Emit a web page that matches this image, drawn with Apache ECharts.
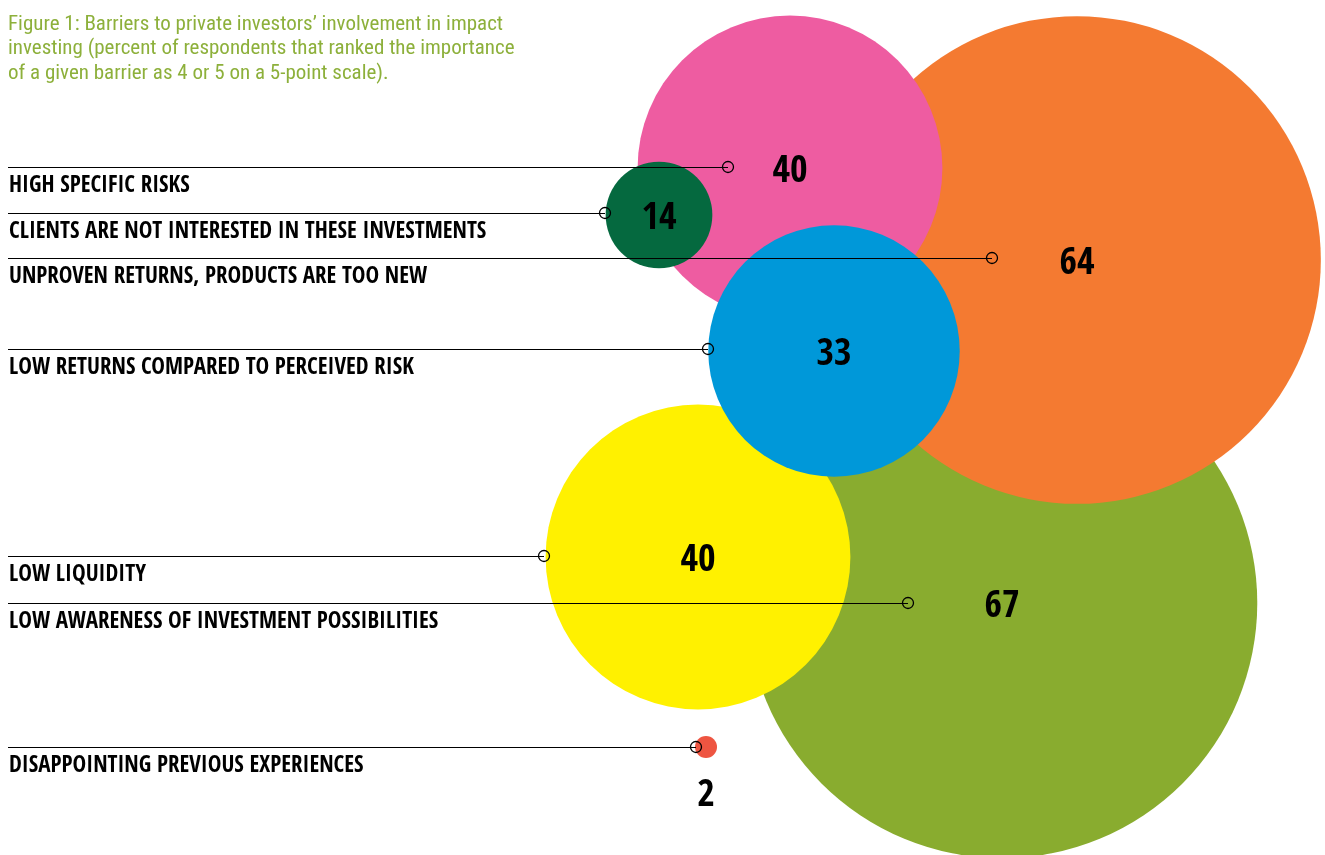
<!DOCTYPE html>
<html>
<head>
<meta charset="utf-8">
<script src="https://cdn.jsdelivr.net/npm/echarts@6/dist/echarts.min.js"></script>
<style>
  html, body { margin: 0; padding: 0; background: #fff; }
  #main { width: 1325px; height: 855px; }
</style>
</head>
<body>
<div id="main"></div>
<script>
// barriers, listed top to bottom as in the legend lines
var barriers = [
    'HIGH SPECIFIC RISKS',
    'CLIENTS ARE NOT INTERESTED IN THESE INVESTMENTS',
    'UNPROVEN RETURNS, PRODUCTS ARE TOO NEW',
    'LOW RETURNS COMPARED TO PERCEIVED RISK',
    'LOW LIQUIDITY',
    'LOW AWARENESS OF INVESTMENT POSSIBILITIES',
    'DISAPPOINTING PREVIOUS EXPERIENCES'
]
// percent of respondents
var percents = [40, 14, 64, 33, 40, 67, 2]

// bubble centres in the layout space (0..1325 x 0..855)
var bubbleX = [790, 659, 1077, 834, 698, 1002, 706]
var bubbleY = [168, 215, 260, 351, 557, 603, 747]

// leader lines: height and where they stop on the bubble
var leaderY = [167, 213, 258, 349, 556, 603, 747]
var leaderEndX = [728, 605, 992, 708, 544, 908, 696]

var colors = ['#EE5CA1', '#05693F', '#F47A31', '#0098D9', '#FFF100', '#89AC2F', '#EE5541']

var titleText = 'Figure 1: Barriers to private investors\u2019 involvement in impact\n' +
    'investing (percent of respondents that ranked the importance\n' +
    'of a given barrier as 4 or 5 on a 5-point scale).'

var PX_PER_PCT = 7.62   // bubble diameter per percent
var MIN_SIZE = 22
var condensed = "'Open Sans Condensed', 'Roboto Condensed', sans-serif"

var sizeOf = (v) => Math.max(v * PX_PER_PCT, MIN_SIZE)

// big bubbles first so the small ones sit on top
var order = percents.map((v, i) => i).sort((a, b) => percents[b] - percents[a])

var bubbleData = order.map(i => {
    var small = sizeOf(percents[i]) < 40
    return {
        name: barriers[i],
        value: [bubbleX[i], bubbleY[i], percents[i]],
        itemStyle: { color: colors[i] },
        label: small ? { position: 'bottom', distance: 15 } : { position: 'inside' }
    }
})

var leaderData = barriers.map((b, i) => ({
    coords: [[8, leaderY[i]], [leaderEndX[i], leaderY[i]]]
}))

var anchorData = barriers.map((b, i) => [leaderEndX[i], leaderY[i]])
var labelData = barriers.map((b, i) => ({ name: b, value: [8, leaderY[i]] }))

var chart = echarts.init(document.getElementById('main'))

var option = {
    backgroundColor: '#fff',
    animation: false,
    title: {
        text: titleText,
        left: 8,
        top: 12,
        padding: 0,
        textStyle: {
            fontFamily: "'Roboto Condensed', sans-serif",
            fontWeight: 'normal',
            fontSize: 21,
            lineHeight: 24.5,
            color: '#8DB03B'
        }
    },
    grid: { left: 0, right: 0, top: 0, bottom: 0 },
    xAxis: { type: 'value', min: 0, max: 1325, show: false },
    yAxis: { type: 'value', min: 0, max: 855, inverse: true, show: false },
    series: [
        {
            type: 'scatter',
            name: 'bubbles',
            silent: true,
            z: 2,
            symbol: 'circle',
            symbolSize: (d) => sizeOf(d[2]),
            itemStyle: { opacity: 1 },
            data: bubbleData,
            label: {
                show: true,
                formatter: (p) => p.value[2],
                offset: [0, 4],
                fontFamily: condensed,
                fontWeight: 'bold',
                fontSize: 38,
                color: '#000'
            }
        },
        {
            type: 'lines',
            coordinateSystem: 'cartesian2d',
            silent: true,
            z: 5,
            lineStyle: { color: '#000', width: 1.2, opacity: 1, curveness: 0 },
            data: leaderData
        },
        {
            type: 'scatter',
            name: 'anchors',
            silent: true,
            z: 6,
            symbol: 'circle',
            symbolSize: 11,
            itemStyle: { color: 'rgba(0,0,0,0)', borderColor: '#000', borderWidth: 1.3, opacity: 1 },
            data: anchorData
        },
        {
            type: 'scatter',
            name: 'labels',
            silent: true,
            z: 6,
            symbolSize: 0,
            itemStyle: { opacity: 1 },
            data: labelData,
            label: {
                show: true,
                position: 'right',
                distance: 1,
                offset: [0, 19],
                formatter: '{b}',
                fontFamily: condensed,
                fontWeight: 'bold',
                fontSize: 23,
                color: '#000'
            }
        }
    ]
}

chart.setOption(option)
</script>
</body>
</html>
